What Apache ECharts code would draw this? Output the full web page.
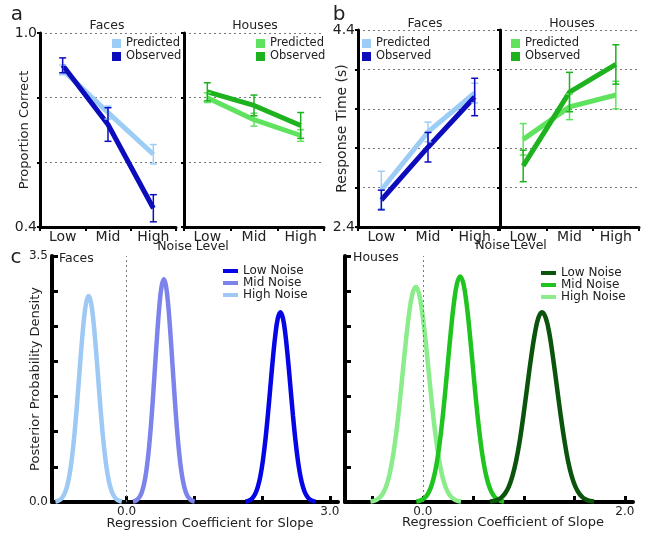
<!DOCTYPE html>
<html><head><meta charset="utf-8">
<script src="https://cdn.jsdelivr.net/npm/echarts@6/dist/echarts.min.js"></script>
<style>html,body{margin:0;padding:0;background:#fff}#c{width:649px;height:539px}</style>
</head><body><div id="c"></div>
<script>
// ---------- data ----------
const noiseLevels = ['Low', 'Mid', 'High'];
// panel a: proportion correct
const accFacesPred = [0.886, 0.754, 0.625];
const accFacesPredErr = [0.015, 0.02, 0.03];
const accFacesObs = [0.90, 0.717, 0.458];
const accFacesObsErr = [0.023, 0.052, 0.042];
const accHousesPred = [0.80, 0.732, 0.683];
const accHousesPredErr = [0.015, 0.02, 0.018];
const accHousesObs = [0.818, 0.776, 0.714];
const accHousesObsErr = [0.028, 0.032, 0.04];
// panel b: response time (s)
const rtFacesPred = [2.776, 3.365, 3.76];
const rtFacesPredErr = [0.19, 0.10, 0.10];
const rtFacesObs = [2.674, 3.21, 3.72];
const rtFacesObsErr = [0.10, 0.15, 0.19];
const rtHousesPred = [3.29, 3.62, 3.74];
const rtHousesPredErr = [0.16, 0.13, 0.14];
const rtHousesObs = [3.02, 3.77, 4.05];
const rtHousesObsErr = [0.16, 0.20, 0.20];
// panel c: posterior densities
const facesHighX = [-1.05, -1.015, -0.98, -0.945, -0.91, -0.875, -0.84, -0.805, -0.77, -0.735, -0.70, -0.665, -0.63, -0.595, -0.56, -0.525, -0.49, -0.455, -0.42, -0.385, -0.35, -0.315, -0.28, -0.245, -0.21, -0.175, -0.14, -0.105, -0.07];
const facesHighY = [0.006, 0.015, 0.033, 0.067, 0.129, 0.233, 0.396, 0.634, 0.951, 1.341, 1.777, 2.212, 2.586, 2.840, 2.93, 2.840, 2.586, 2.212, 1.777, 1.341, 0.951, 0.634, 0.396, 0.233, 0.129, 0.067, 0.033, 0.015, 0.006];
const facesMidX = [0.095, 0.1275, 0.16, 0.1925, 0.225, 0.2575, 0.29, 0.3225, 0.355, 0.3875, 0.42, 0.4525, 0.485, 0.5175, 0.55, 0.5825, 0.615, 0.6475, 0.68, 0.7125, 0.745, 0.7775, 0.81, 0.8425, 0.875, 0.9075, 0.94, 0.9725, 1.005];
const facesMidY = [0.007, 0.016, 0.035, 0.072, 0.139, 0.252, 0.429, 0.686, 1.029, 1.451, 1.923, 2.393, 2.798, 3.072, 3.17, 3.072, 2.798, 2.393, 1.923, 1.451, 1.029, 0.686, 0.429, 0.252, 0.139, 0.072, 0.035, 0.016, 0.007];
const facesLowX = [1.752, 1.789, 1.826, 1.863, 1.90, 1.937, 1.974, 2.011, 2.048, 2.085, 2.122, 2.159, 2.196, 2.233, 2.27, 2.307, 2.344, 2.381, 2.418, 2.455, 2.492, 2.529, 2.566, 2.603, 2.64, 2.677, 2.714, 2.751, 2.788];
const facesLowY = [0.006, 0.014, 0.030, 0.062, 0.119, 0.215, 0.365, 0.584, 0.877, 1.236, 1.638, 2.038, 2.383, 2.617, 2.70, 2.617, 2.383, 2.038, 1.638, 1.236, 0.877, 0.584, 0.365, 0.215, 0.119, 0.062, 0.030, 0.014, 0.006];
const housesHighX = [-0.518, -0.486, -0.454, -0.422, -0.39, -0.358, -0.326, -0.294, -0.262, -0.23, -0.198, -0.166, -0.134, -0.102, -0.07, -0.038, -0.006, 0.026, 0.058, 0.09, 0.122, 0.154, 0.186, 0.218, 0.25, 0.282, 0.314, 0.346, 0.378];
const housesHighY = [0.007, 0.016, 0.034, 0.070, 0.134, 0.244, 0.414, 0.662, 0.994, 1.401, 1.856, 2.310, 2.700, 2.966, 3.06, 2.966, 2.700, 2.310, 1.856, 1.401, 0.994, 0.662, 0.414, 0.244, 0.134, 0.070, 0.034, 0.016, 0.007];
const housesMidX = [-0.064, -0.033, -0.002, 0.029, 0.06, 0.091, 0.122, 0.153, 0.184, 0.215, 0.246, 0.277, 0.308, 0.339, 0.37, 0.401, 0.432, 0.463, 0.494, 0.525, 0.556, 0.587, 0.618, 0.649, 0.68, 0.711, 0.742, 0.773, 0.804];
const housesMidY = [0.007, 0.016, 0.036, 0.073, 0.141, 0.256, 0.434, 0.694, 1.042, 1.470, 1.947, 2.423, 2.833, 3.111, 3.21, 3.111, 2.833, 2.423, 1.947, 1.470, 1.042, 0.694, 0.434, 0.256, 0.141, 0.073, 0.036, 0.016, 0.007];
const housesLowX = [0.666, 0.703, 0.739, 0.776, 0.813, 0.850, 0.886, 0.923, 0.960, 0.996, 1.033, 1.070, 1.107, 1.143, 1.18, 1.217, 1.254, 1.290, 1.327, 1.364, 1.401, 1.437, 1.474, 1.511, 1.548, 1.584, 1.621, 1.658, 1.695];
const housesLowY = [0.006, 0.014, 0.030, 0.062, 0.119, 0.215, 0.365, 0.584, 0.877, 1.236, 1.638, 2.038, 2.383, 2.617, 2.70, 2.617, 2.383, 2.038, 1.638, 1.236, 0.877, 0.584, 0.365, 0.215, 0.119, 0.062, 0.030, 0.014, 0.006];

// ---------- styling ----------
const FONT = 'DejaVu Sans';
const C = {
  fPred: '#9ccdf6', fObs: '#0c0cbc', hPred: '#5fe35f', hObs: '#1fb21f',
  fLow: '#0505e6', fMid: '#7c84ec', fHigh: '#9dc9f4',
  hLow: '#0b540b', hMid: '#1fc41f', hHigh: '#8aec8a'
};
const zip = (xs, ys) => xs.map((x, i) => [x, ys[i]]);

function lineS(name, gi, vals, color) {
  return { type: 'line', name, xAxisIndex: gi, yAxisIndex: gi, data: vals, symbol: 'none',
    lineStyle: { color, width: 5 }, itemStyle: { color }, z: 2, silent: true };
}
function errS(name, gi, vals, errs, color) {
  return { type: 'custom', name, xAxisIndex: gi, yAxisIndex: gi, silent: true, z: 3,
    data: vals.map((v, i) => [i, v - errs[i], v + errs[i]]),
    encode: { x: 0, y: [1, 2] },
    renderItem: (params, api) => {
      const lo = api.coord([api.value(0), api.value(1)]);
      const hi = api.coord([api.value(0), api.value(2)]);
      const w = 3.5, style = { stroke: color, lineWidth: 1.5 };
      return { type: 'group', children: [
        { type: 'line', shape: { x1: lo[0], y1: lo[1], x2: hi[0], y2: hi[1] }, style },
        { type: 'line', shape: { x1: lo[0] - w, y1: lo[1], x2: lo[0] + w, y2: lo[1] }, style },
        { type: 'line', shape: { x1: hi[0] - w, y1: hi[1], x2: hi[0] + w, y2: hi[1] }, style }
      ] };
    } };
}
function curveS(name, gi, xs, ys, color) {
  return { type: 'line', name, xAxisIndex: gi, yAxisIndex: gi, data: zip(xs, ys), smooth: 0.4,
    symbol: 'none', lineStyle: { color, width: 4.5 }, itemStyle: { color }, silent: true };
}
function catX(gi) {
  return { type: 'category', gridIndex: gi, data: noiseLevels, boundaryGap: true,
    axisLine: { onZero: false, lineStyle: { color: '#000', width: 3 } },
    axisTick: { show: true, length: 4, lineStyle: { color: '#000', width: 2 } },
    axisLabel: { fontFamily: FONT, fontSize: 14, color: '#222', margin: 3 } };
}
function valY(gi, min, max, interval, showLabels, name) {
  const lbl = v => (Math.abs(v - min) < 1e-6 || Math.abs(v - max) < 1e-6) ? v.toFixed(1) : '';
  const rt = name === 'Response Time (s)';
  return { type: 'value', gridIndex: gi, min, max, interval,
    name: name || '', nameLocation: 'middle', nameGap: rt ? 9 : 9, nameMoveOverlap: false,
    nameTextStyle: { fontFamily: FONT, fontSize: rt ? 14 : 13, color: '#222' },
    axisLine: { show: true, onZero: false, lineStyle: { color: '#000', width: 3 } },
    axisTick: { show: true, length: 3, lineStyle: { color: '#000', width: 2 } },
    axisLabel: { show: showLabels, formatter: lbl, fontFamily: FONT, fontSize: 14, color: '#222', margin: 3 },
    splitLine: { show: true, lineStyle: { type: [2, 3], color: '#777', width: 1 } } };
}
function densX(gi, min, max, ticks, labels) {
  return { type: 'value', gridIndex: gi, min, max,
    axisLine: { onZero: false, lineStyle: { color: '#000', width: 4 } },
    axisTick: { show: true, inside: true, length: 6, customValues: ticks, lineStyle: { color: '#000', width: 3 } },
    axisLabel: { customValues: labels, formatter: v => v.toFixed(1), fontFamily: FONT, fontSize: 12, color: '#222', margin: 4 },
    splitLine: { show: false } };
}
function densY(gi, showLabels, name) {
  return { type: 'value', gridIndex: gi, min: 0, max: 3.5, interval: 0.5,
    name: name || '', nameLocation: 'middle', nameGap: 10, nameMoveOverlap: false,
    nameTextStyle: { fontFamily: FONT, fontSize: 13, color: '#222' },
    axisLine: { show: true, onZero: false, lineStyle: { color: '#000', width: 4 } },
    axisTick: { show: true, inside: true, length: 6, lineStyle: { color: '#000', width: 3 } },
    axisLabel: { show: showLabels, formatter: v => (v === 0 || v === 3.5) ? v.toFixed(1) : '',
      fontFamily: FONT, fontSize: 12, color: '#222', margin: 4 },
    splitLine: { show: false } };
}
function legend(left, top, names, square) {
  return { left, top, orient: 'vertical', padding: 0, itemGap: 0, selectedMode: false,
    icon: 'rect', itemWidth: square ? 9 : 15, itemHeight: square ? 9 : 4,
    data: names, formatter: n => n.split('|')[0],
    textStyle: { fontFamily: FONT, fontSize: square ? 11.5 : 12, color: '#222', lineHeight: square ? 13 : 12 } };
}
function txt(text, x, y, size, align, rot) {
  return { type: 'text', x, y, rotation: rot || 0,
    style: { text, fill: '#222', font: size + 'px "' + FONT + '"', textAlign: align || 'center', textVerticalAlign: 'middle' } };
}

const zeroLine = {
  silent: true, symbol: 'none', label: { show: false },
  lineStyle: { type: [2, 3], color: '#777', width: 1 }, data: [{ xAxis: 0 }]
};

const option = {
  animation: false,
  backgroundColor: '#fff',
  grid: [
    { left: 40, top: 33, width: 136, height: 194 },
    { left: 184, top: 33, width: 140, height: 194 },
    { left: 358, top: 30, width: 140, height: 197 },
    { left: 500, top: 30, width: 139, height: 197 },
    { left: 52, top: 256, width: 286, height: 246 },
    { left: 345, top: 256, width: 288, height: 246 }
  ],
  xAxis: [catX(0), catX(1), catX(2), catX(3),
    densX(4, -1.1, 3.12, [0, 1, 2, 3], [0, 3]),
    densX(5, -0.77, 2.08, [-0.5, 0, 0.5, 1, 1.5, 2], [0, 2])],
  yAxis: [valY(0, 0.4, 1.0, 0.2, true, 'Proportion Correct'), valY(1, 0.4, 1.0, 0.2, false),
    valY(2, 2.4, 4.4, 0.4, true, 'Response Time (s)'), valY(3, 2.4, 4.4, 0.4, false),
    densY(4, true, 'Posterior Probability Density'), densY(5, false)],
  legend: [
    legend(112, 37, ['Predicted|aF', 'Observed|aF'], true),
    legend(256, 37, ['Predicted|aH', 'Observed|aH'], true),
    legend(362, 37, ['Predicted|bF', 'Observed|bF'], true),
    legend(511, 37, ['Predicted|bH', 'Observed|bH'], true),
    legend(223, 265, ['Low Noise|F', 'Mid Noise|F', 'High Noise|F'], false),
    legend(541, 267, ['Low Noise|H', 'Mid Noise|H', 'High Noise|H'], false)
  ],
  series: [
    lineS('Predicted|aF', 0, accFacesPred, C.fPred), lineS('Observed|aF', 0, accFacesObs, C.fObs),
    errS('ePa', 0, accFacesPred, accFacesPredErr, C.fPred), errS('eOa', 0, accFacesObs, accFacesObsErr, C.fObs),
    lineS('Predicted|aH', 1, accHousesPred, C.hPred), lineS('Observed|aH', 1, accHousesObs, C.hObs),
    errS('ePah', 1, accHousesPred, accHousesPredErr, C.hPred), errS('eOah', 1, accHousesObs, accHousesObsErr, C.hObs),
    lineS('Predicted|bF', 2, rtFacesPred, C.fPred), lineS('Observed|bF', 2, rtFacesObs, C.fObs),
    errS('ePb', 2, rtFacesPred, rtFacesPredErr, C.fPred), errS('eOb', 2, rtFacesObs, rtFacesObsErr, C.fObs),
    lineS('Predicted|bH', 3, rtHousesPred, C.hPred), lineS('Observed|bH', 3, rtHousesObs, C.hObs),
    errS('ePbh', 3, rtHousesPred, rtHousesPredErr, C.hPred), errS('eObh', 3, rtHousesObs, rtHousesObsErr, C.hObs),
    Object.assign(curveS('High Noise|F', 4, facesHighX, facesHighY, C.fHigh), { markLine: zeroLine }),
    curveS('Mid Noise|F', 4, facesMidX, facesMidY, C.fMid),
    curveS('Low Noise|F', 4, facesLowX, facesLowY, C.fLow),
    Object.assign(curveS('High Noise|H', 5, housesHighX, housesHighY, C.hHigh), { markLine: zeroLine }),
    curveS('Mid Noise|H', 5, housesMidX, housesMidY, C.hMid),
    curveS('Low Noise|H', 5, housesLowX, housesLowY, C.hLow)
  ],
  graphic: [
    txt('a', 17, 15, 20), txt('b', 339, 15, 20), txt('c', 16, 258, 20),
    txt('Faces', 107, 26, 12.5), txt('Houses', 255, 26, 12.5),
    txt('Faces', 425, 24, 12.5), txt('Houses', 572, 24, 12.5),
    txt('Faces', 59, 259, 12.5, 'left'), txt('Houses', 353, 258, 12.5, 'left'),
    txt('Noise Level', 193, 247, 12.5), txt('Noise Level', 511, 246, 12.5),
    txt('Regression Coefficient for Slope', 210, 524, 13),
    txt('Regression Coefficient of Slope', 503, 523, 13)
  ]
};
const chart = echarts.init(document.getElementById('c'), null, { renderer: 'canvas' });
chart.setOption(option);
</script></body></html>
